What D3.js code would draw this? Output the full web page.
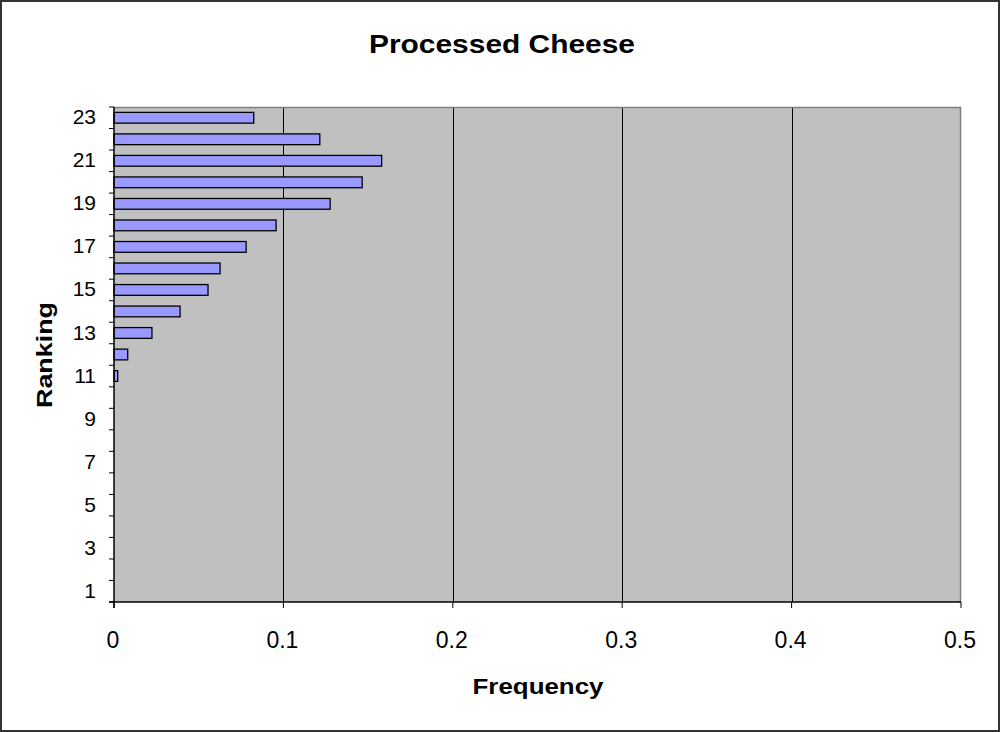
<!DOCTYPE html>
<html><head><meta charset="utf-8">
<script src="https://cdn.jsdelivr.net/npm/d3@7"></script>
<style>body{margin:0;background:#fff}svg{display:block}text{font-family:Arial,"Liberation Sans",sans-serif}</style>
</head><body>
<svg id="c" width="1001" height="732"></svg>
<script>
const rankings = d3.range(1, 24);
const frequencies = [0,0,0,0,0,0,0,0,0,0,0.0022,0.0081,0.0224,0.039,0.0555,0.0626,0.078,0.0957,0.1276,0.1465,0.158,0.1215,0.0825];
const xTicks = [0,0.1,0.2,0.3,0.4,0.5];
const yLabels = [1,3,5,7,9,11,13,15,17,19,21,23];
const title = "Processed Cheese", xTitle = "Frequency", yTitle = "Ranking";

const svg = d3.select("#c");
const L = 114, R = 961, T = 107, B = 602;
svg.append("rect").attr("x",1).attr("y",1).attr("width",998).attr("height",730)
  .attr("fill","#fff").attr("stroke","#333").attr("stroke-width",2);

const x = d3.scaleLinear().domain([0,0.5]).range([L,R]);
const y = d3.scaleBand().domain(rankings).range([B,T]).paddingInner(0.5).paddingOuter(0.25);
const yb = d3.scaleLinear().domain([0,23]).range([B,T]);

svg.append("rect").attr("x",L).attr("y",T).attr("width",R-L).attr("height",B-T).attr("fill","#C0C0C0");
svg.append("g").selectAll("line").data(xTicks.slice(1,-1)).join("line")
  .attr("x1",d=>Math.round(x(d))+0.5).attr("x2",d=>Math.round(x(d))+0.5).attr("y1",T).attr("y2",B)
  .attr("stroke","#000").attr("stroke-width",1);
svg.append("path").attr("d",`M${L},${T+0.5}H${R-0.5}V${B}`).attr("fill","none").attr("stroke","#808080").attr("stroke-width",1.5);

svg.append("g").selectAll("rect").data(rankings).join("rect")
  .attr("x",L).attr("y",d=>y(d)).attr("height",y.bandwidth())
  .attr("width",(d,i)=>x(frequencies[i])-L)
  .attr("fill","#9999FF").attr("stroke","#000").attr("stroke-width",1.3)
  .style("display",(d,i)=>frequencies[i]>0?null:"none");

// y axis
const gy = svg.append("g");
gy.append("line").attr("x1",L).attr("x2",L).attr("y1",T).attr("y2",B+6).attr("stroke","#000").attr("stroke-width",1.5);
gy.selectAll(".t").data(d3.range(0,24)).join("line").attr("class","t")
  .attr("x1",L-5).attr("x2",L).attr("y1",d=>yb(d)).attr("y2",d=>yb(d)).attr("stroke","#000");
gy.selectAll("text").data(yLabels).join("text")
  .attr("x",96).attr("y",d=>y(d)+y.bandwidth()/2-1).attr("dy","0.36em")
  .attr("text-anchor","end").attr("font-size",21).text(d=>d);

// x axis
const gx = svg.append("g");
gx.append("line").attr("x1",L-5).attr("x2",R).attr("y1",B).attr("y2",B).attr("stroke","#000").attr("stroke-width",1.5);
gx.selectAll(".t").data(xTicks).join("line").attr("class","t")
  .attr("x1",d=>x(d)).attr("x2",d=>x(d)).attr("y1",B).attr("y2",B+6).attr("stroke","#000");
gx.selectAll("text").data(xTicks).join("text")
  .attr("x",d=>x(d)-1).attr("y",648).attr("text-anchor","middle").attr("font-size",23)
  .text(d=>d===0?"0":String(d));

svg.append("text").attr("x",502).attr("y",53).attr("text-anchor","middle")
  .attr("font-size",26).attr("font-weight","bold").attr("textLength",266).attr("lengthAdjust","spacingAndGlyphs").text(title);
svg.append("text").attr("x",538).attr("y",694).attr("text-anchor","middle")
  .attr("font-size",22).attr("font-weight","bold").attr("textLength",131).attr("lengthAdjust","spacingAndGlyphs").text(xTitle);
svg.append("text").attr("transform","translate(52,355) rotate(-90)").attr("text-anchor","middle")
  .attr("font-size",22).attr("font-weight","bold").attr("textLength",106).attr("lengthAdjust","spacingAndGlyphs").text(yTitle);
</script>
</body></html>
